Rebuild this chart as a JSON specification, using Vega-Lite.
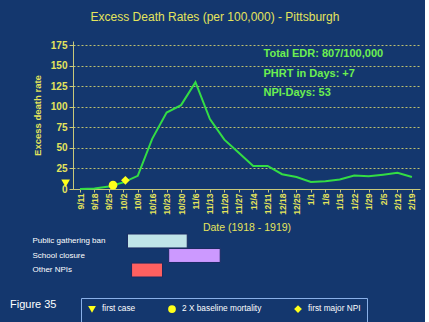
{
  "$schema": "https://vega.github.io/schema/vega-lite/v6.json",
  "background": "#14376e",
  "padding": {"left": 10, "top": 11, "right": 5, "bottom": 5},
  "title": {"text": "Excess Death Rates (per 100,000) - Pittsburgh", "color": "#e4e45c", "fontSize": 12, "fontWeight": "normal", "font": "Liberation Sans", "anchor": "middle", "offset": 16},
  "config": {"view": {"stroke": null}, "font": "Liberation Sans"},
  "spacing": 0,
  "vconcat": [
    {
      "width": 347,
      "height": 148,
      "resolve": {"axis": {"x": "independent", "y": "independent"}},
      "layer": [
        {
          "data": {"values": [
            {"date": "1918-09-11", "rate": 0},
            {"date": "1918-09-18", "rate": 0.5},
            {"date": "1918-09-25", "rate": 3},
            {"date": "1918-10-02", "rate": 8},
            {"date": "1918-10-09", "rate": 16},
            {"date": "1918-10-16", "rate": 61},
            {"date": "1918-10-23", "rate": 93},
            {"date": "1918-10-30", "rate": 102},
            {"date": "1918-11-06", "rate": 130},
            {"date": "1918-11-13", "rate": 85},
            {"date": "1918-11-20", "rate": 60},
            {"date": "1918-11-27", "rate": 44},
            {"date": "1918-12-04", "rate": 28},
            {"date": "1918-12-11", "rate": 28},
            {"date": "1918-12-18", "rate": 18},
            {"date": "1918-12-25", "rate": 14.5},
            {"date": "1919-01-01", "rate": 8.6},
            {"date": "1919-01-08", "rate": 9.5},
            {"date": "1919-01-15", "rate": 11.5},
            {"date": "1919-01-22", "rate": 16.5},
            {"date": "1919-01-29", "rate": 15.4},
            {"date": "1919-02-05", "rate": 17.4},
            {"date": "1919-02-12", "rate": 19.7},
            {"date": "1919-02-19", "rate": 14.5}
          ]},
          "mark": {"type": "line", "color": "#33dd44", "strokeWidth": 2},
          "encoding": {
            "x": {
              "field": "date", "type": "temporal",
              "scale": {"type": "utc", "domain": [{"year": 1918, "month": 9, "date": 7, "hours": 14, "utc": true}, {"year": 1919, "month": 2, "date": 22, "hours": 22, "utc": true}]},
              "axis": {
                "title": "Date (1918 - 1919)",
                "labelExpr": "utcFormat(datum.value, '%-m/%-d')",
                "values": [
                  {"year": 1918, "month": 9, "date": 11, "utc": true},
                  {"year": 1918, "month": 9, "date": 18, "utc": true},
                  {"year": 1918, "month": 9, "date": 25, "utc": true},
                  {"year": 1918, "month": 10, "date": 2, "utc": true},
                  {"year": 1918, "month": 10, "date": 9, "utc": true},
                  {"year": 1918, "month": 10, "date": 16, "utc": true},
                  {"year": 1918, "month": 10, "date": 23, "utc": true},
                  {"year": 1918, "month": 10, "date": 30, "utc": true},
                  {"year": 1918, "month": 11, "date": 6, "utc": true},
                  {"year": 1918, "month": 11, "date": 13, "utc": true},
                  {"year": 1918, "month": 11, "date": 20, "utc": true},
                  {"year": 1918, "month": 11, "date": 27, "utc": true},
                  {"year": 1918, "month": 12, "date": 4, "utc": true},
                  {"year": 1918, "month": 12, "date": 11, "utc": true},
                  {"year": 1918, "month": 12, "date": 18, "utc": true},
                  {"year": 1918, "month": 12, "date": 25, "utc": true},
                  {"year": 1919, "month": 1, "date": 1, "utc": true},
                  {"year": 1919, "month": 1, "date": 8, "utc": true},
                  {"year": 1919, "month": 1, "date": 15, "utc": true},
                  {"year": 1919, "month": 1, "date": 22, "utc": true},
                  {"year": 1919, "month": 1, "date": 29, "utc": true},
                  {"year": 1919, "month": 2, "date": 5, "utc": true},
                  {"year": 1919, "month": 2, "date": 12, "utc": true},
                  {"year": 1919, "month": 2, "date": 19, "utc": true}
                ],
                "labelAngle": -90, "labelColor": "#e4e45c", "labelFontSize": 8.5, "labelFontWeight": "bold", "labelPadding": 1,
                "tickSize": 3, "tickColor": "#c8c87a", "domainColor": "#c8c87a", "grid": false,
                "titleColor": "#e4e45c", "titleFontSize": 10.5, "titleFontWeight": "normal", "titlePadding": 8
              }
            },
            "y": {
              "field": "rate", "type": "quantitative",
              "scale": {"domain": [0, 175]},
              "axis": {
                "title": "Excess death rate", "values": [0, 25, 50, 75, 100, 125, 150, 175],
                "labelColor": "#e4e45c", "labelFontSize": 10, "labelFontWeight": "bold", "labelPadding": 2,
                "tickSize": 4, "tickColor": "#c8c87a", "domainColor": "#c8c87a",
                "grid": true, "gridColor": "#cfcf70", "gridDash": [2, 2], "gridOpacity": 0.9,
                "titleColor": "#e4e45c", "titleFontSize": 9.5, "titleFontWeight": "bold", "titlePadding": 8
              }
            }
          }
        },
        {
          "data": {"values": [
            {"date": "1918-09-04", "rate": 7, "event": "first case"},
            {"date": "1918-09-27", "rate": 4.7, "event": "2 X baseline mortality"},
            {"date": "1918-10-03", "rate": 10.5, "event": "first major NPI"}
          ]},
          "mark": {"type": "point", "filled": true, "color": "#ffff1a", "opacity": 1, "size": 75},
          "encoding": {
            "x": {"field": "date", "type": "temporal", "scale": {"type": "utc"}, "axis": null},
            "y": {"field": "rate", "type": "quantitative", "axis": null},
            "shape": {
              "field": "event", "type": "nominal",
              "scale": {"domain": ["first case", "2 X baseline mortality", "first major NPI"], "range": ["triangle-down", "circle", "diamond"]},
              "legend": {
                "orient": "none", "legendX": 8, "legendY": 257, "direction": "horizontal", "title": null,
                "strokeColor": "#8ab0e8", "padding": 6, "columnPadding": 29,
                "labelColor": "white", "labelFontSize": 8.3, "labelFont": "Liberation Sans", "labelOffset": 5,
                "symbolFillColor": "#ffff1a", "symbolStrokeColor": "#ffff1a", "symbolSize": 60
              }
            }
          }
        },
        {
          "data": {"values": [{}]},
          "mark": {"type": "text", "text": ["Total EDR:  807/100,000", "PHRT in Days: +7", "NPI-Days: 53"], "align": "left", "baseline": "top", "lineHeight": 19.5, "color": "#6cf050", "fontSize": 11, "fontWeight": "bold"},
          "encoding": {
            "x": {"datum": {"year": 1918, "month": 12, "date": 9, "utc": true}, "type": "temporal", "scale": {"type": "utc"}, "axis": null},
            "y": {"datum": 171, "type": "quantitative", "axis": null}
          }
        }
      ]
    },
    {
      "width": 347,
      "height": 43,
      "data": {"values": [
        {"npi": "Public gathering ban", "start": "1918-10-04", "end": "1918-11-02"},
        {"npi": "School closure", "start": "1918-10-24", "end": "1918-11-18"},
        {"npi": "Other NPIs", "start": "1918-10-06", "end": "1918-10-21"}
      ]},
      "title": {"text": "Figure 35", "orient": "bottom", "anchor": "start", "frame": "bounds", "dx": -22, "offset": 21, "color": "white", "fontSize": 11, "fontWeight": "normal", "font": "Liberation Sans"},
      "mark": {"type": "bar", "stroke": "#1a2a60", "strokeWidth": 1},
      "encoding": {
        "x": {"field": "start", "type": "temporal", "scale": {"type": "utc", "domain": [{"year": 1918, "month": 9, "date": 7, "hours": 14, "utc": true}, {"year": 1919, "month": 2, "date": 22, "hours": 22, "utc": true}]}, "axis": null},
        "x2": {"field": "end"},
        "y": {"field": "npi", "type": "nominal", "sort": null, "scale": {"paddingInner": 0.04, "paddingOuter": 0}, "axis": {"title": null, "domain": false, "ticks": false, "tickSize": 0, "labelAlign": "left", "labelPadding": 41, "labelColor": "white", "labelFontSize": 8, "labelFont": "Liberation Sans"}},
        "color": {"field": "npi", "type": "nominal", "scale": {"domain": ["Public gathering ban", "School closure", "Other NPIs"], "range": ["#c0e4e8", "#cc99ff", "#ff6060"]}, "legend": null}
      }
    }
  ]
}
